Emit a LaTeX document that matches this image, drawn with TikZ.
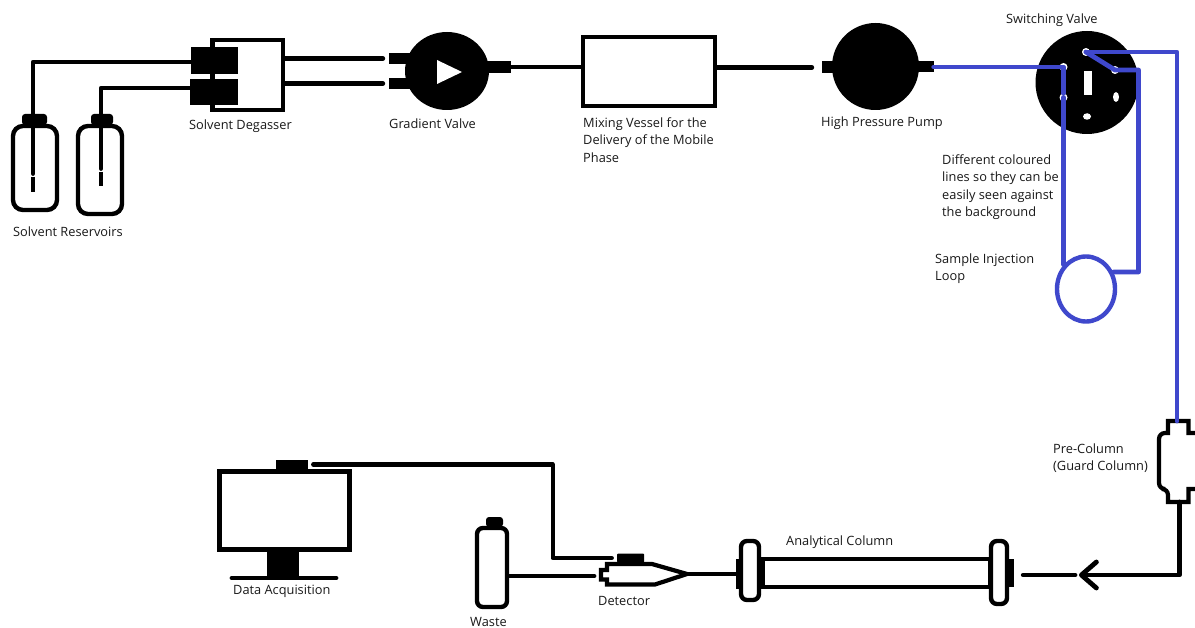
\documentclass[tikz,border=0pt]{standalone}
\usepackage{xcolor}
\usepackage{fontspec}
\setmainfont{Open Sans}
\usepackage{tikz}
\usetikzlibrary{arrows.meta,shapes.geometric}
\definecolor{hplcblue}{HTML}{3F48CC}

\begin{document}
\begin{tikzpicture}[x=1pt,y=-1pt,
  pipe/.style={line width=4.8pt,line cap=round,line join=round},
  bluepipe/.style={pipe,draw=hplcblue},
  wall/.style={draw,line width=4.4pt,fill=white,inner sep=0pt},
  bottle/.style={wall,rounded corners=10pt},
  flange/.style={wall,rounded corners=6pt},
  solid/.style={fill=black,inner sep=0pt},
  port/.style={ellipse,fill=white,inner sep=0pt},
  lbl/.style={anchor=west,align=left,inner sep=0pt,font=\fontsize{12.8}{17.3}\selectfont,text=black!90}
]
\useasboundingbox (0,0) rectangle (1195,628);
\fill[white] (0,0) rectangle (1195,628);

\node[bottle,minimum width=44pt,minimum height=84pt] (resA) at (35,168) {};
\node[bottle,minimum width=44pt,minimum height=88pt] (resB) at (100,170) {};
\node[solid,rounded corners=3pt,minimum width=25pt,minimum height=11pt] (capA) at (34.5,119.5) {};
\node[solid,rounded corners=3pt,minimum width=22pt,minimum height=11pt] (capB) at (102,119.5) {};
\coordinate (stemA) at (33,173.5);
\coordinate (tipA) at (33,177);
\coordinate (endA) at (33,192);
\coordinate (stemB) at (101,168.5);
\coordinate (tipB) at (101,172);
\coordinate (endB) at (101,186);

\node[wall,minimum width=70.5pt,minimum height=70pt] (degasser) at (247.75,75) {};
\node[solid,minimum width=47pt,minimum height=27.5pt] (blockA) at (214.5,60.5) {};
\node[solid,minimum width=48pt,minimum height=26pt] (blockB) at (214,92) {};

\node[solid,minimum width=25pt,minimum height=11pt] (stubA) at (401.5,58.5) {};
\node[solid,minimum width=25pt,minimum height=11pt] (stubB) at (401.5,83.5) {};
\node[solid,minimum width=27pt,minimum height=12pt] (stubC) at (497.5,67) {};
\node[solid,ellipse,minimum width=84pt,minimum height=78pt] (gradvalve) at (447,71) {};
\fill[white] (437,60) -- (437,84) -- (462,72) -- cycle;

\node[wall,minimum width=132pt,minimum height=69pt] (vessel) at (649,71.5) {};

\node[solid,minimum width=20pt,minimum height=12pt] (stubD) at (832,67.5) {};
\node[solid,minimum width=20pt,minimum height=11pt] (stubE) at (923.5,67) {};
\node[solid,circle,minimum size=87pt] (pump) at (875.5,66.5) {};

\node[solid,circle,minimum size=103pt] (swvalve) at (1087,82.5) {};
\node[port,minimum width=8pt,minimum height=8pt] (portA) at (1063.5,67) {};
\node[port,minimum width=8pt,minimum height=8pt] (portB) at (1086,52) {};
\node[port,minimum width=8pt,minimum height=8pt] (portC) at (1115,70) {};
\node[port,minimum width=8pt,minimum height=8pt] (portD) at (1063.5,97.5) {};
\node[port,minimum width=8pt,minimum height=6.5pt] (portE) at (1087,116.5) {};
\node[port,minimum width=6pt,minimum height=10pt] (portF) at (1116,97) {};
\node[fill=white,inner sep=0pt,minimum width=8pt,minimum height=24pt] (slit) at (1088,83) {};

\node[ellipse,draw=hplcblue,line width=4.4pt,fill=white,inner sep=0pt,minimum width=58pt,minimum height=65pt] (loop) at (1086,289) {};
\coordinate (bendC) at (1138.5,272);
\coordinate (guardtop) at (1177,421);
\coordinate (guardbot) at (1179.5,502);
\coordinate (turn) at (1179.5,575);
\coordinate (barb) at (1079,575);

\draw[pipe,line width=4.2pt,line cap=butt,line join=miter] (1195,433) -- (1188.5,433) -- (1188.5,421) -- (1168,421) -- (1168,433)
  [rounded corners=6pt] -- (1159,433) -- (1159,489) -- (1168,489) [sharp corners] -- (1168,502) -- (1188.5,502) -- (1188.5,489) -- (1195,489);

\node[flange,minimum width=18pt,minimum height=59pt] (flangeL) at (750,570.5) {};
\node[flange,minimum width=16pt,minimum height=63pt] (flangeR) at (999,572.5) {};
\node[solid,minimum width=5pt,minimum height=30pt] (bumpL) at (738.5,574) {};
\node[solid,minimum width=7pt,minimum height=28pt] (bumpR) at (1010.5,573) {};
\node[wall,minimum width=229pt,minimum height=28pt] (column) at (875.5,573) {};
\node[solid,minimum width=4pt,minimum height=30pt] (columnend) at (763,573) {};

\node[flange,minimum width=30pt,minimum height=79pt] (waste) at (492,567.5) {};
\node[solid,rounded corners=3pt,minimum width=17pt,minimum height=10pt] (wastecap) at (494.5,522) {};

\coordinate (dettip) at (687,574);
\coordinate (detback) at (599,576);
\draw[pipe,line width=4.2pt,line cap=butt,line join=miter] (607,570) -- (601,570) -- (601,579.5) -- (607,579.5) -- (607,584.5) -- (655,584.5) -- (dettip) -- (652,564) -- (607,564) -- cycle;
\node[solid,rounded corners=1pt,minimum width=27pt,minimum height=9pt] (sensor) at (630.5,558) {};

\node[wall,minimum width=130pt,minimum height=78pt] (screen) at (284.5,510.5) {};
\node[solid,minimum width=32pt,minimum height=27pt] (stand) at (283,565) {};
\node[solid,minimum width=32pt,minimum height=9pt] (screencap) at (292,464.5) {};
\coordinate (baseL) at (232,578);
\coordinate (baseR) at (336,578);
\coordinate (wirebend) at (552.7,464.5);

\draw[pipe] ([yshift=-1.5pt]blockA.west) -| (stemA);
\draw[pipe] ([yshift=4pt]blockB.west) -| (stemB);
\draw[pipe,line cap=butt] (tipA) -- (endA);
\draw[pipe,line cap=butt] (tipB) -- (endB);
\draw[pipe,shorten >=6pt] (degasser.east |- stubA) -- (stubA.west);
\draw[pipe,shorten >=6pt] (degasser.east |- stubB) -- (stubB.west);
\draw[pipe] (stubC.east) -- (stubC.east -| vessel.west);
\draw[pipe,shorten >=10pt] (vessel.east |- stubD) -- (stubD.west);

\draw[bluepipe] (stubE.east) -- (portA.center) -- (portA.center |- portD.north);
\draw[bluepipe] (portD.center) -- (portD.center |- loop.north west);
\draw[bluepipe] (portB.center) -- (portC.center) -| (bendC) -- (bendC -| loop.30);
\draw[bluepipe] (portB.center) -| (guardtop);

\draw[pipe,-{Straight Barb[length=15pt,width=26pt,round]}] (guardbot) -- (turn) -- (barb);
\draw[pipe,shorten <=4pt,shorten >=9pt] (barb) -- (barb -| bumpR.east);
\draw[pipe,line width=4.2pt] (bumpL.west) -- (dettip);
\draw[pipe,shorten >=5pt] (waste.east |- detback) -- (detback);
\draw[pipe,line width=4.2pt,shorten <=5pt,shorten >=5pt] (screencap.east) -- (wirebend) |- (sensor.west);
\draw[pipe] (baseL) -- (baseR);

\node[lbl] (lblres) at (13,231.5) {Solvent Reservoirs};
\node[lbl] (lbldeg) at (189,126) {Solvent Degasser};
\node[lbl] (lblgrad) at (389,124) {Gradient Valve};
\node[lbl] (lblmix) at (583,140) {Mixing Vessel for the\\Delivery of the Mobile\\Phase};
\node[lbl] (lblpump) at (821,123.5) {High Pressure Pump};
\node[lbl] (lblsw) at (1006,20) {Switching Valve};
\node[lbl] (lblnote) at (942,187) {Different coloured\\lines so they can be\\easily seen against\\the background};
\node[lbl] (lblloop) at (935,269) {Sample Injection\\Loop};
\node[lbl] (lblguard) at (1053,458) {Pre-Column\\(Guard Column)};
\node[lbl] (lblcol) at (786,542.5) {Analytical Column};
\node[lbl] (lbldata) at (233,591.5) {Data Acquisition};
\node[lbl] (lbldet) at (598,601) {Detector};
\node[lbl] (lblwaste) at (470,622) {Waste};
\end{tikzpicture}
\end{document}
